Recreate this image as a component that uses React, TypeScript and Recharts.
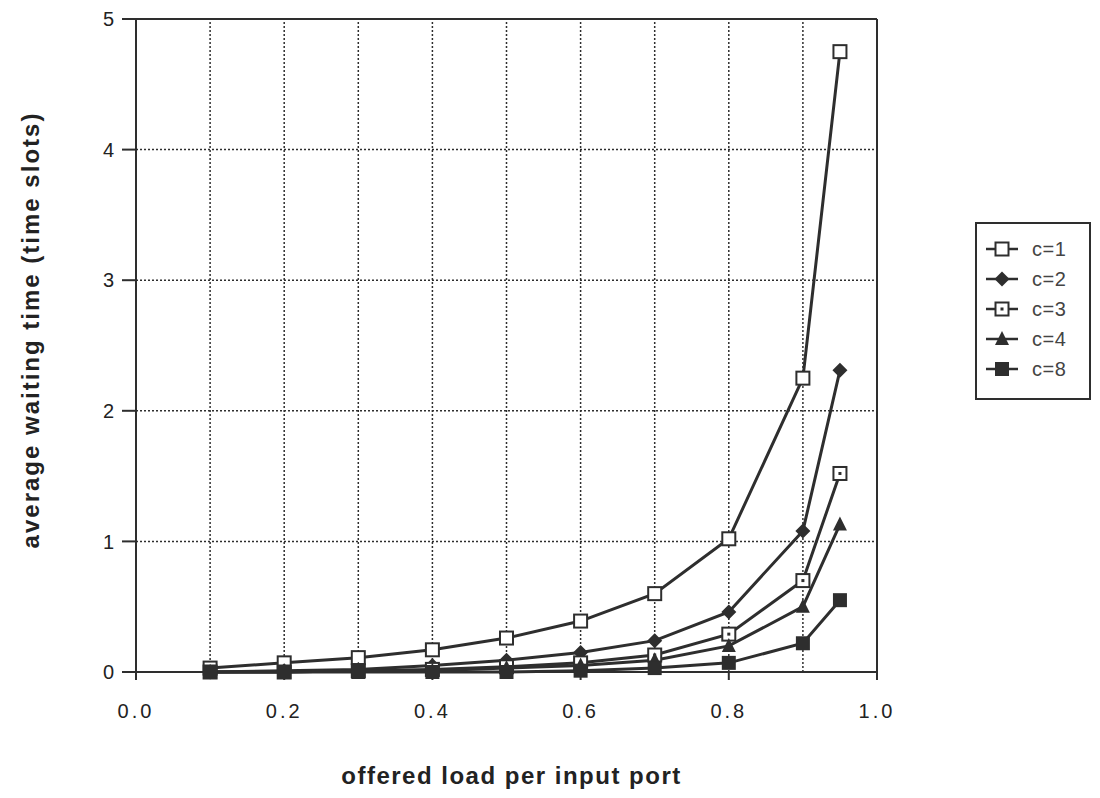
import React from "react";
import {
  LineChart,
  Line,
  XAxis,
  YAxis,
  ReferenceLine,
  Label,
} from "recharts";

const loads = [0.1, 0.2, 0.3, 0.4, 0.5, 0.6, 0.7, 0.8, 0.9, 0.95];
const c1 = [0.03, 0.07, 0.11, 0.17, 0.26, 0.39, 0.6, 1.02, 2.25, 4.75];
const c2 = [0.0, 0.01, 0.02, 0.05, 0.09, 0.15, 0.24, 0.46, 1.08, 2.31];
const c3 = [0.0, 0.0, 0.01, 0.02, 0.04, 0.07, 0.13, 0.29, 0.7, 1.52];
const c4 = [0.0, 0.0, 0.01, 0.01, 0.03, 0.05, 0.09, 0.2, 0.5, 1.13];
const c8 = [0.0, 0.0, 0.0, 0.0, 0.0, 0.01, 0.03, 0.07, 0.22, 0.55];

const xTicks = [0, 0.2, 0.4, 0.6, 0.8, 1.0];
const yTicks = [0, 1, 2, 3, 4, 5];
const xGrid = [0.1, 0.2, 0.3, 0.4, 0.5, 0.6, 0.7, 0.8, 0.9];
const yGrid = [1, 2, 3, 4];

const seriesNames = ["c=1", "c=2", "c=3", "c=4", "c=8"];
const seriesKeys = ["c1", "c2", "c3", "c4", "c8"];
const markers = ["openSquare", "diamond", "dotSquare", "triangle", "square"];

const data = loads.map((x, i) => ({
  x,
  c1: c1[i],
  c2: c2[i],
  c3: c3[i],
  c4: c4[i],
  c8: c8[i],
}));

const INK = "#2e2e2e";
const FONT = "'Liberation Sans', Arial, Helvetica, sans-serif";

const Marker = ({ kind, cx, cy }: { kind: string; cx: number; cy: number }) => {
  const s = 6.5;
  switch (kind) {
    case "openSquare":
      return <rect x={cx - s} y={cy - s} width={2 * s} height={2 * s} fill="#fff" stroke={INK} strokeWidth={2} />;
    case "dotSquare":
      return (
        <g>
          <rect x={cx - s} y={cy - s} width={2 * s} height={2 * s} fill="#fff" stroke={INK} strokeWidth={2} />
          <rect x={cx - 1.5} y={cy - 1.5} width={3} height={3} fill={INK} />
        </g>
      );
    case "diamond":
      return <polygon points={`${cx},${cy - 7.5} ${cx + 7.5},${cy} ${cx},${cy + 7.5} ${cx - 7.5},${cy}`} fill={INK} />;
    case "triangle":
      return <polygon points={`${cx},${cy - 8} ${cx + 7},${cy + 6} ${cx - 7},${cy + 6}`} fill={INK} />;
    default:
      return <rect x={cx - 7} y={cy - 7} width={14} height={14} fill={INK} />;
  }
};

const makeDot = (kind: string) => (props: any) => {
  const { cx, cy, index } = props;
  if (cx == null || cy == null) return <g key={`${kind}-${index}`} />;
  return (
    <g key={`${kind}-${index}`}>
      <Marker kind={kind} cx={cx} cy={cy} />
    </g>
  );
};

const YTitle = () => (
  <text
    x={30}
    y={330}
    transform="rotate(-90 30 330)"
    textAnchor="middle"
    dominantBaseline="central"
    fill="#222"
    fontSize={24}
    fontWeight="bold"
    fontFamily={FONT}
    letterSpacing={2}
  >
    average waiting time (time slots)
  </text>
);

const LegendBox = () => (
  <div
    style={{
      position: "absolute",
      left: 975,
      top: 222,
      border: `2px solid ${INK}`,
      width: 116,
      height: 178,
      boxSizing: "border-box",
      paddingTop: 10,
      fontFamily: FONT,
      background: "#fff",
    }}
  >
    {seriesNames.map((name, i) => (
      <div key={name} style={{ display: "flex", alignItems: "center", height: 30 }}>
        <svg width={48} height={20} style={{ marginLeft: 7 }}>
          <line x1={2} y1={10} x2={34} y2={10} stroke={INK} strokeWidth={2.5} />
          <Marker kind={markers[i]} cx={18} cy={10} />
        </svg>
        <span style={{ fontSize: 20, color: "#444", letterSpacing: 0.5 }}>{name}</span>
      </div>
    ))}
  </div>
);

export default function App() {
  return (
    <div style={{ position: "absolute", left: 0, top: 0, width: 1100, height: 798, background: "#fff" }}>
      <LineChart
        width={1100}
        height={798}
        data={data}
        margin={{ top: 19, right: 223, bottom: 86, left: 0 }}
      >
        <XAxis
          dataKey="x"
          type="number"
          domain={[0, 1]}
          ticks={xTicks}
          tickFormatter={(v: number) => v.toFixed(1)}
          height={40}
          stroke={INK}
          strokeWidth={2}
          tickSize={8}
          tick={{ fill: "#222", fontSize: 20, fontFamily: FONT, letterSpacing: 3 }}
          tickMargin={24}
        >
          <Label
            value="offered load per input port"
            position="bottom"
            offset={55}
            dx={5}
            style={{ fill: "#222", fontSize: 24, fontWeight: "bold", fontFamily: FONT, letterSpacing: 1.5 }}
          />
        </XAxis>
        <YAxis
          type="number"
          domain={[0, 5]}
          ticks={yTicks}
          width={136}
          stroke={INK}
          strokeWidth={2}
          tickSize={14}
          tick={{ fill: "#222", fontSize: 20, fontFamily: FONT }}
          tickMargin={8}
        >
          <Label content={() => <YTitle />} />
        </YAxis>
        {xGrid.map((g) => (
          <ReferenceLine key={`vx${g}`} x={g} stroke={INK} strokeWidth={1.5} strokeDasharray="2 2" />
        ))}
        {yGrid.map((g) => (
          <ReferenceLine key={`hy${g}`} y={g} stroke={INK} strokeWidth={1.5} strokeDasharray="2 2" />
        ))}
        <ReferenceLine x={1} stroke={INK} strokeWidth={2} />
        <ReferenceLine y={5} stroke={INK} strokeWidth={2} />
        {seriesKeys.map((k, i) => (
          <Line
            key={k}
            dataKey={k}
            name={seriesNames[i]}
            stroke={INK}
            strokeWidth={3}
            dot={makeDot(markers[i])}
            activeDot={false}
            isAnimationActive={false}
          />
        ))}
      </LineChart>
      <LegendBox />
    </div>
  );
}
